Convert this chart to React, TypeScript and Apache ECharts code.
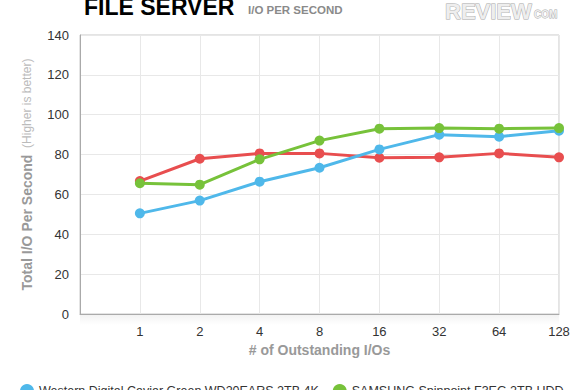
import React, { useEffect, useRef } from "react";
import * as echarts from "echarts";

const categories = ["1", "2", "4", "8", "16", "32", "64", "128"];
const seriesNames = [
  "Western Digital Caviar Green WD20EARS 2TB 4K",
  "SAMSUNG Spinpoint F3EG 2TB HDD",
  "Western Digital Caviar Green WD20EARS 2TB",
];
const blueValues = [50.5, 56.9, 66.4, 73.4, 82.6, 90.0, 89.0, 92.0];
const greenValues = [65.6, 64.9, 77.6, 87.0, 93.0, 93.3, 93.0, 93.3];
const redValues = [66.7, 77.9, 80.6, 80.6, 78.4, 78.6, 80.6, 78.6];
const yTicks = [0, 20, 40, 60, 80, 100, 120, 140];

const FONT = "'Liberation Sans', Arial, Helvetica, sans-serif";

export default function App() {
  const ref = useRef<HTMLDivElement>(null);
  useEffect(() => {
    document.body.style.margin = "0";
    const chart = echarts.init(ref.current!, null, { renderer: "svg" });
    const toPts = (vals: number[]) => vals.map((v, i) => [i + 1, v]);
    const colors = ["#4fb8ea", "#77c23a", "#e84e4f"];
    const mk = (name: string, vals: number[], color: string, z: number) => ({
      name,
      type: "line",
      data: toPts(vals),
      symbol: "circle",
      symbolSize: 10,
      z,
      lineStyle: { color, width: 3 },
      itemStyle: { color },
    });
    chart.setOption({
      animation: false,
      textStyle: { fontFamily: FONT },
      grid: {
        left: 80,
        right: 21,
        top: 35,
        bottom: 76,
        show: true,
        borderColor: "#c8c8c8",
        borderWidth: 1,
        containLabel: false,
      },
      graphic: [
        {
          type: "rect",
          shape: { x: 80, y: 315, width: 479, height: 10 },
          style: {
            fill: new echarts.graphic.LinearGradient(0, 0, 0, 1, [
              { offset: 0, color: "rgba(0,0,0,0.05)" },
              { offset: 1, color: "rgba(0,0,0,0)" },
            ]),
          },
          silent: true,
        },
        {
          type: "text",
          x: 84,
          y: 18,
          style: {
            text: "FILE SERVER",
            font: `bold 23px ${FONT}`,
            fill: "#000",
            textVerticalAlign: "bottom",
          },
        },
        {
          type: "text",
          x: 248,
          y: 16,
          style: {
            text: "I/O PER SECOND",
            font: `bold 11.5px ${FONT}`,
            fill: "#8a8a8a",
            textVerticalAlign: "bottom",
          },
        },
        {
          type: "text",
          x: 445,
          y: 22,
          style: {
            text: "REVIEW",
            font: `bold 22px ${FONT}`,
            fill: "#eeeeee",
            stroke: "#a8a8a8",
            lineWidth: 1,
            textVerticalAlign: "bottom",
          },
        },
        {
          type: "text",
          x: 534,
          y: 19.5,
          style: {
            text: "COM",
            font: `bold 10px ${FONT}`,
            fill: "#eeeeee",
            stroke: "#a8a8a8",
            lineWidth: 0.8,
            textVerticalAlign: "bottom",
          },
        },
      ],
      legend: {
        data: seriesNames.slice(0, 2),
        left: 15,
        top: 379,
        icon: "circle",
        itemWidth: 14,
        itemHeight: 14,
        itemGap: 14,
        textStyle: { fontSize: 12.5, color: "#333", fontFamily: FONT },
      },
      xAxis: {
        type: "value",
        min: 0,
        max: 8,
        interval: 1,
        name: "# of Outstanding I/Os",
        nameLocation: "middle",
        nameGap: 20,
        nameTextStyle: { fontSize: 14, fontWeight: "bold", color: "#999", fontFamily: FONT },
        axisLine: { show: true, lineStyle: { color: "#aaa" } },
        axisTick: { show: false },
        axisLabel: {
          color: "#333",
          fontSize: 13,
          margin: 11,
          formatter: (v: number) => (v >= 1 ? categories[v - 1] : ""),
        },
        splitLine: { show: true, lineStyle: { color: "#e8e8e8" } },
      },
      yAxis: {
        type: "value",
        min: yTicks[0],
        max: yTicks[yTicks.length - 1],
        interval: 20,
        name: "{a|Total I/O Per Second}  {b|(Higher is better)}",
        nameLocation: "middle",
        nameGap: 46,
        nameTextStyle: {
          rich: {
            a: { fontSize: 14, fontWeight: "bold", color: "#999", fontFamily: FONT },
            b: { fontSize: 12, color: "#bbb", fontFamily: FONT },
          },
        },
        axisLine: { show: true, lineStyle: { color: "#aaa" } },
        axisTick: { show: false },
        axisLabel: { color: "#333", fontSize: 13, margin: 11 },
        splitLine: { show: true, lineStyle: { color: "#e8e8e8" } },
      },
      series: [
        mk(seriesNames[2], redValues, colors[2], 2),
        mk(seriesNames[0], blueValues, colors[0], 3),
        mk(seriesNames[1], greenValues, colors[1], 4),
      ],
    });
    return () => chart.dispose();
  }, []);
  return <div ref={ref} style={{ width: 580, height: 390 }} />;
}
